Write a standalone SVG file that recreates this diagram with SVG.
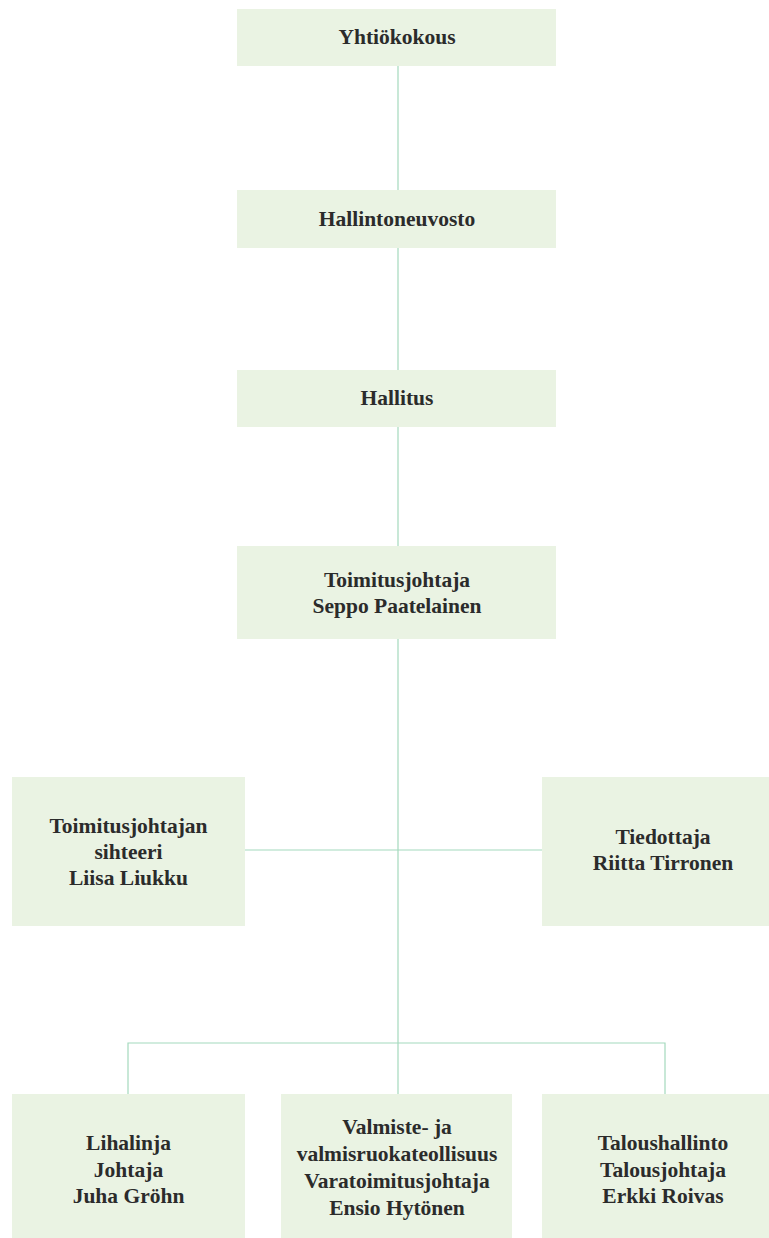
<svg xmlns="http://www.w3.org/2000/svg" width="769" height="1238" viewBox="0 0 769 1238">
<style>
.box{fill:#eaf3e3}
.t{font-family:"Liberation Serif",serif;font-weight:bold;font-size:21.5px;fill:#2b2b2b;text-anchor:middle}
.c{stroke:#a4d9bd;stroke-width:1.2;fill:none}
</style>
<rect width="769" height="1238" fill="#ffffff"/>
<g id="connectors">
<line class="c" x1="398" y1="66" x2="398" y2="1094"/>
<line class="c" x1="245" y1="850" x2="542" y2="850"/>
<polyline class="c" points="128,1094 128,1043 665,1043 665,1094"/>
</g>
<g id="yhtiokokous"><rect class="box" x="237" y="9" width="319" height="57"/><text class="t" x="397" y="44">Yhtiökokous</text></g>
<g id="hallintoneuvosto"><rect class="box" x="237" y="190" width="319" height="58"/><text class="t" x="397" y="226">Hallintoneuvosto</text></g>
<g id="hallitus"><rect class="box" x="237" y="370" width="319" height="57"/><text class="t" x="397" y="405">Hallitus</text></g>
<g id="toimitusjohtaja"><rect class="box" x="237" y="546" width="319" height="93"/><text class="t" x="397" y="587">Toimitusjohtaja</text><text class="t" x="397" y="613">Seppo Paatelainen</text></g>
<g id="sihteeri"><rect class="box" x="12" y="777" width="233" height="149"/><text class="t" x="128.5" y="833">Toimitusjohtajan</text><text class="t" x="128.5" y="859">sihteeri</text><text class="t" x="128.5" y="885">Liisa Liukku</text></g>
<g id="tiedottaja"><rect class="box" x="542" y="777" width="242" height="149"/><text class="t" x="663" y="844">Tiedottaja</text><text class="t" x="663" y="870">Riitta Tirronen</text></g>
<g id="lihalinja"><rect class="box" x="12" y="1094" width="233" height="150"/><text class="t" x="128.5" y="1150">Lihalinja</text><text class="t" x="128.5" y="1176.5">Johtaja</text><text class="t" x="128.5" y="1203">Juha Gröhn</text></g>
<g id="valmiste"><rect class="box" x="281" y="1094" width="231" height="150"/><text class="t" x="397" y="1134">Valmiste- ja</text><text class="t" x="397" y="1161">valmisruokateollisuus</text><text class="t" x="397" y="1188">Varatoimitusjohtaja</text><text class="t" x="397" y="1215">Ensio Hytönen</text></g>
<g id="taloushallinto"><rect class="box" x="542" y="1094" width="242" height="150"/><text class="t" x="663" y="1150">Taloushallinto</text><text class="t" x="663" y="1176.5">Talousjohtaja</text><text class="t" x="663" y="1203">Erkki Roivas</text></g>
</svg>
